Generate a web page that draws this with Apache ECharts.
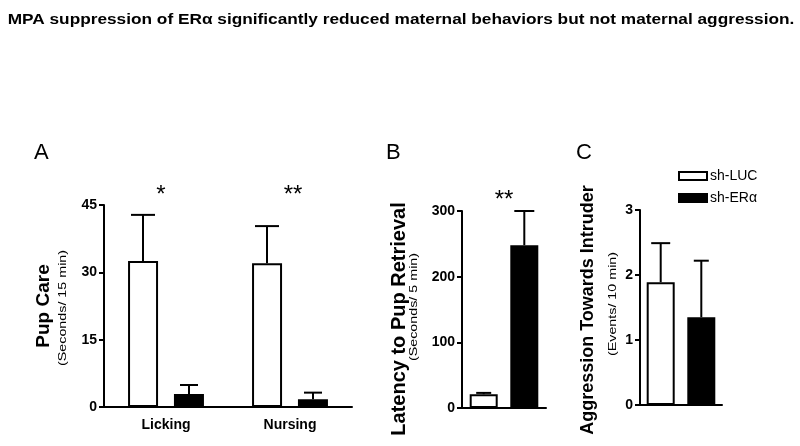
<!DOCTYPE html>
<html><head><meta charset="utf-8">
<script src="https://cdn.jsdelivr.net/npm/echarts@6/dist/echarts.min.js"></script>
<style>html,body{margin:0;padding:0;background:#fff}#c{width:800px;height:446px}</style>
</head><body><div id="c"></div>
<script>
// ---- data ----
const seriesNames = ['sh-LUC', 'sh-ERα'];
const careCategories = ['Licking', 'Nursing'];
const careLUC = [32.5, 32.0];
const careLUCErr = [10.3, 8.3];
const careERa = [2.9, 1.7];
const careERaErr = [2.0, 1.5];
const latencyLUC = [21];
const latencyLUCErr = [2];
const latencyERa = [248];
const latencyERaErr = [52];
const aggrLUC = [1.89];
const aggrLUCErr = [0.60];
const aggrERa = [1.35];
const aggrERaErr = [0.87];
const careTicks = [0, 15, 30, 45];
const latencyTicks = [0, 100, 200, 300];
const aggrTicks = [0, 1, 2, 3];

const FONT = 'Liberation Sans, Arial, sans-serif';
const chart = echarts.init(document.getElementById('c'), null, {renderer: 'canvas'});

function errData(vals, errs) { return vals.map((v, i) => [i, v, errs[i]]); }
function errRender(offset, cap) {
  return function (params, api) {
    const b = api.coord([api.value(0), api.value(1)]);
    const t = api.coord([api.value(0), api.value(1) + api.value(2)]);
    const cx = b[0] + offset;
    const st = {stroke: '#000', lineWidth: 2};
    return {type: 'group', children: [
      {type: 'line', shape: {x1: cx, y1: b[1], x2: cx, y2: t[1]}, style: st},
      {type: 'line', shape: {x1: cx - cap / 2, y1: t[1], x2: cx + cap / 2, y2: t[1]}, style: st}
    ]};
  };
}
function yAxisCfg(idx, ticks) {
  return {
    type: 'value', gridIndex: idx, min: ticks[0], max: ticks[ticks.length - 1],
    interval: ticks[1] - ticks[0],
    axisLine: {show: true, lineStyle: {color: '#000', width: 2}},
    axisTick: {show: true, length: 5, lineStyle: {color: '#000', width: 2}},
    axisLabel: {color: '#000', fontFamily: FONT, fontWeight: 'bold', fontSize: 14, margin: 7},
    splitLine: {show: false}
  };
}
function xAxisCfg(idx, cats, showLabel) {
  return {
    type: 'category', gridIndex: idx, data: cats,
    axisLine: {show: true, onZero: false, lineStyle: {color: '#000', width: 2}},
    axisTick: {show: false},
    axisLabel: {show: showLabel, color: '#000', fontFamily: FONT, fontWeight: 'bold', fontSize: 14, margin: 11}
  };
}
const whiteStyle = {color: '#fff', borderColor: '#000', borderWidth: 2};
const blackStyle = {color: '#000', borderColor: '#000', borderWidth: 2};

const option = {
  animation: false,
  backgroundColor: '#fff',
  grid: [
    {left: 104, top: 205, width: 248, height: 202},
    {left: 462, top: 211, width: 84, height: 197},
    {left: 640, top: 210, width: 82, height: 195}
  ],
  xAxis: [xAxisCfg(0, careCategories, true), xAxisCfg(1, [''], false), xAxisCfg(2, [''], false)],
  yAxis: [yAxisCfg(0, careTicks), yAxisCfg(1, latencyTicks), yAxisCfg(2, aggrTicks)],
  legend: {
    orient: 'vertical', left: 678, top: 169, padding: 0, itemWidth: 28, itemHeight: 8, itemGap: 8,
    icon: 'rect', data: seriesNames,
    textStyle: {color: '#000', fontFamily: FONT, fontSize: 14, padding: [0, 0, 0, -2]}
  },
  series: [
    {name: seriesNames[0], type: 'bar', xAxisIndex: 0, yAxisIndex: 0, data: careLUC, barWidth: 30, barGap: '53%', itemStyle: whiteStyle},
    {name: seriesNames[1], type: 'bar', xAxisIndex: 0, yAxisIndex: 0, data: careERa, barWidth: 30, barGap: '53%', itemStyle: blackStyle},
    {type: 'custom', xAxisIndex: 0, yAxisIndex: 0, data: errData(careLUC, careLUCErr), renderItem: errRender(-23, 24), z: 5},
    {type: 'custom', xAxisIndex: 0, yAxisIndex: 0, data: errData(careERa, careERaErr), renderItem: errRender(23, 18), z: 5},

    {name: seriesNames[0], type: 'bar', xAxisIndex: 1, yAxisIndex: 1, data: latencyLUC, barWidth: 28, barGap: '45%', itemStyle: whiteStyle},
    {name: seriesNames[1], type: 'bar', xAxisIndex: 1, yAxisIndex: 1, data: latencyERa, barWidth: 28, barGap: '45%', itemStyle: blackStyle},
    {type: 'custom', xAxisIndex: 1, yAxisIndex: 1, data: errData(latencyLUC, latencyLUCErr), renderItem: errRender(-20.3, 15), z: 5},
    {type: 'custom', xAxisIndex: 1, yAxisIndex: 1, data: errData(latencyERa, latencyERaErr), renderItem: errRender(20.3, 20), z: 5},

    {name: seriesNames[0], type: 'bar', xAxisIndex: 2, yAxisIndex: 2, data: aggrLUC, barWidth: 28, barGap: '45%', itemStyle: whiteStyle},
    {name: seriesNames[1], type: 'bar', xAxisIndex: 2, yAxisIndex: 2, data: aggrERa, barWidth: 28, barGap: '45%', itemStyle: blackStyle},
    {type: 'custom', xAxisIndex: 2, yAxisIndex: 2, data: errData(aggrLUC, aggrLUCErr), renderItem: errRender(-20.3, 19), z: 5},
    {type: 'custom', xAxisIndex: 2, yAxisIndex: 2, data: errData(aggrERa, aggrERaErr), renderItem: errRender(20.3, 15), z: 5}
  ],
  graphic: [
    {type: 'text', x: 401, y: 20, scaleX: 1.15, style: {text: 'MPA suppression of ERα significantly reduced maternal behaviors but not maternal aggression.', fontFamily: FONT, fontWeight: 'bold', fontSize: 15, fill: '#000', textAlign: 'center', textVerticalAlign: 'middle'}},
    {type: 'text', x: 34, y: 153, style: {text: 'A', fontFamily: FONT, fontSize: 22, fill: '#000', textVerticalAlign: 'middle'}},
    {type: 'text', x: 386, y: 153, style: {text: 'B', fontFamily: FONT, fontSize: 22, fill: '#000', textVerticalAlign: 'middle'}},
    {type: 'text', x: 576, y: 153, style: {text: 'C', fontFamily: FONT, fontSize: 22, fill: '#000', textVerticalAlign: 'middle'}},
    {type: 'text', x: 44, y: 306, rotation: Math.PI / 2, style: {text: 'Pup Care', fontFamily: FONT, fontWeight: 'bold', fontSize: 19, fill: '#000', textAlign: 'center', textVerticalAlign: 'middle'}},
    {type: 'text', x: 63, y: 308, rotation: Math.PI / 2, scaleX: 1.3, style: {text: '(Seconds/ 15 min)', fontFamily: FONT, fontSize: 11, fill: '#000', textAlign: 'center', textVerticalAlign: 'middle'}},
    {type: 'text', x: 399, y: 319, rotation: Math.PI / 2, style: {text: 'Latency to Pup Retrieval', fontFamily: FONT, fontWeight: 'bold', fontSize: 20, fill: '#000', textAlign: 'center', textVerticalAlign: 'middle'}},
    {type: 'text', x: 414, y: 307, rotation: Math.PI / 2, scaleX: 1.3, style: {text: '(Seconds/ 5 min)', fontFamily: FONT, fontSize: 11, fill: '#000', textAlign: 'center', textVerticalAlign: 'middle'}},
    {type: 'text', x: 588, y: 310, rotation: Math.PI / 2, style: {text: 'Aggression Towards Intruder', fontFamily: FONT, fontWeight: 'bold', fontSize: 18, fill: '#000', textAlign: 'center', textVerticalAlign: 'middle'}},
    {type: 'text', x: 613, y: 304, rotation: Math.PI / 2, scaleX: 1.3, style: {text: '(Events/ 10 min)', fontFamily: FONT, fontSize: 11, fill: '#000', textAlign: 'center', textVerticalAlign: 'middle'}},
    {type: 'text', x: 161, y: 195, style: {text: '*', fontFamily: FONT, fontSize: 24, fill: '#000', textAlign: 'center', textVerticalAlign: 'middle'}},
    {type: 'text', x: 293, y: 195, style: {text: '**', fontFamily: FONT, fontSize: 24, fill: '#000', textAlign: 'center', textVerticalAlign: 'middle'}},
    {type: 'text', x: 504, y: 200, style: {text: '**', fontFamily: FONT, fontSize: 24, fill: '#000', textAlign: 'center', textVerticalAlign: 'middle'}}
  ]
};
chart.setOption(option);
</script>
</body></html>
